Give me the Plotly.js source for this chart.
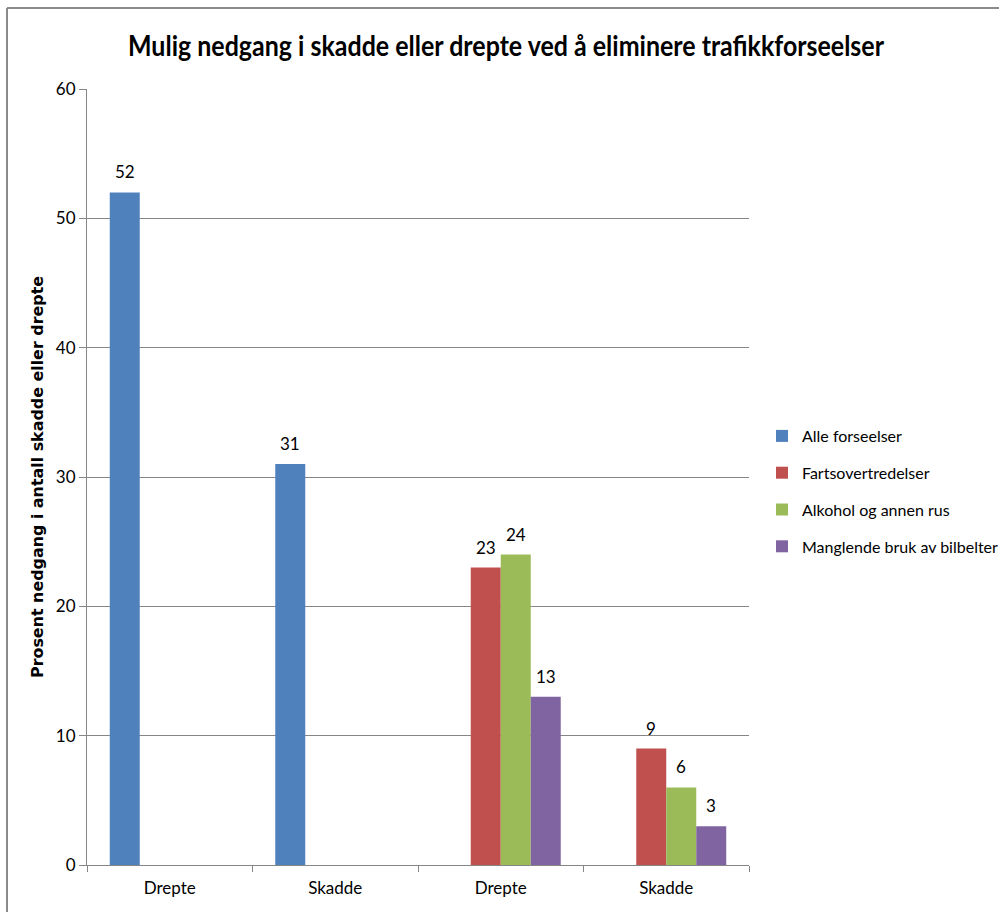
<!DOCTYPE html>
<html>
<head>
<meta charset="utf-8">
<script src="https://cdn.plot.ly/plotly-3.0.1.min.js"></script>
<style>
html,body{margin:0;padding:0;background:#fff;}
#chart{width:999px;height:912px;}
</style>
</head>
<body>
<div id="chart"></div>
<script>
// Data
const catKeys = ["c1", "c2", "c3", "c4"];
const catLabels = ["Drepte", "Skadde", "Drepte", "Skadde"];
const seriesNames = ["Alle forseelser", "Fartsovertredelser", "Alkohol og annen rus", "Manglende bruk av bilbelter"];
const alleForseelser = [52, 31, null, null];
const fartsovertredelser = [null, null, 23, 9];
const alkohol = [null, null, 24, 6];
const bilbelter = [null, null, 13, 3];
const colors = ["#4F81BD", "#C0504D", "#9BBB59", "#8064A2"];
const yTicks = [0, 10, 20, 30, 40, 50, 60];

const calib = "Lato, Open Sans, sans-serif";
const allSeries = [alleForseelser, fartsovertredelser, alkohol, bilbelter];

const W = 999, H = 912;
const M = {l: 87, r: 250, t: 89, b: 47};
const plotW = W - M.l - M.r;
const plotH = H - M.t - M.b;
const bargap = 0.275;
const barPx = plotW / catKeys.length * (1 - bargap) / allSeries.length;

const traces = allSeries.map((vals, i) => ({
  type: "bar",
  name: seriesNames[i],
  x: catKeys,
  y: vals,
  marker: {color: colors[i]},
  legendgroup: "g" + i,
  hoverinfo: "skip"
}));

// value labels, positioned by the axes at each bar's value
const annotations = [];
allSeries.forEach((vals, i) => {
  vals.forEach((v, j) => {
    if (v === null) return;
    annotations.push({
      xref: "x", yref: "y", x: catKeys[j], y: v,
      text: String(v), showarrow: false,
      xanchor: "center", yanchor: "bottom",
      xshift: (i - (allSeries.length - 1) / 2) * barPx,
      yshift: 8,
      font: {family: calib, size: 17, color: "#000"}
    });
  });
});

const layout = {
  width: W,
  height: H,
  margin: {l: M.l, r: M.r, t: M.t, b: M.b, autoexpand: false},
  paper_bgcolor: "#fff",
  plot_bgcolor: "#fff",
  barmode: "group",
  bargap: bargap,
  bargroupgap: 0,
  showlegend: true,
  title: {
    text: "<b>Mulig nedgang i skadde eller drepte ved å eliminere trafikkforseelser</b>",
    font: {family: calib, size: 28, color: "#000"},
    x: 506 / W, xanchor: "center", xref: "container",
    y: 1 - 46 / H, yanchor: "middle", yref: "container"
  },
  xaxis: {
    type: "category",
    tickmode: "array",
    tickvals: catKeys,
    ticktext: catLabels,
    tickson: "boundaries",
    ticks: "outside",
    ticklen: 6,
    tickcolor: "#868686",
    ticklabelstandoff: 8,
    showline: true,
    linecolor: "#868686",
    linewidth: 1,
    showgrid: false,
    tickfont: {family: calib, size: 17, color: "#000"},
    fixedrange: true
  },
  yaxis: {
    range: [0, 60],
    tickmode: "array",
    tickvals: yTicks,
    ticks: "outside",
    ticklen: 7,
    tickcolor: "#868686",
    showline: true,
    linecolor: "#868686",
    linewidth: 1,
    showgrid: true,
    gridcolor: "#868686",
    gridwidth: 1,
    zeroline: false,
    tickfont: {family: calib, size: 17, color: "#000"},
    title: {
      text: "<b>Prosent nedgang i antall skadde eller drepte</b>",
      font: {family: "DejaVu Sans, Verdana, sans-serif", size: 15, color: "#000"},
      standoff: 8
    },
    fixedrange: true
  },
  legend: {
    x: (762 - M.l) / plotW, xanchor: "left",
    y: 1 - (419 - M.t) / plotH, yanchor: "top",
    traceorder: "grouped",
    tracegroupgap: 13,
    font: {family: calib, size: 16, color: "#000"},
    itemwidth: 30,
    bgcolor: "rgba(0,0,0,0)"
  },
  annotations: annotations,
  shapes: [
    {type: "line", xref: "paper", yref: "paper",
     x0: (7 - M.l) / plotW, x1: (7 - M.l) / plotW, y0: 1 + (M.t - 8) / plotH, y1: -(M.b + 5) / plotH,
     line: {color: "#8a8a8a", width: 2}},
    {type: "line", xref: "paper", yref: "paper",
     x0: (7 - M.l) / plotW, x1: 1 + (M.r + 5) / plotW, y0: 1 + (M.t - 8) / plotH, y1: 1 + (M.t - 8) / plotH,
     line: {color: "#8a8a8a", width: 2}}
  ]
};

Plotly.newPlot("chart", traces, layout, {displayModeBar: false, staticPlot: true}).then(gd => {
  // emulate the narrow Calibri face of the original by fitting text widths
  const t = gd.querySelector(".gtitle");
  if (t) { t.setAttribute("textLength", "756"); t.setAttribute("lengthAdjust", "spacingAndGlyphs"); }
  const yt = gd.querySelector(".ytitle");
  if (yt) { yt.setAttribute("textLength", "402"); yt.setAttribute("lengthAdjust", "spacingAndGlyphs"); }
});
</script>
</body>
</html>
